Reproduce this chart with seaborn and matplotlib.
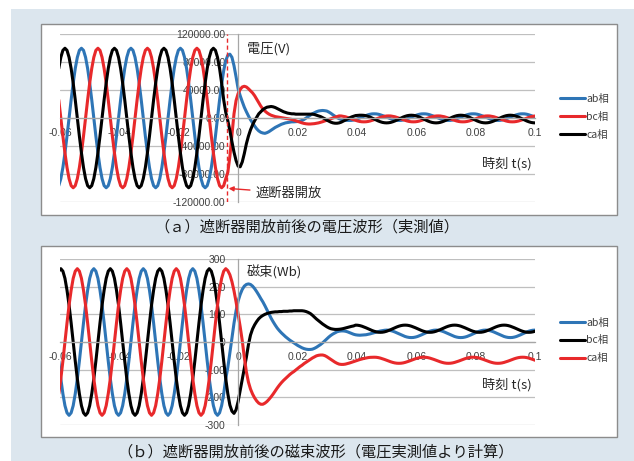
import numpy as np
import pandas as pd
import matplotlib
matplotlib.use("Agg")
import matplotlib.pyplot as plt
from matplotlib.patches import Rectangle
import seaborn as sns

# ---------------------------------------------------------------------------
# Recorded waveforms: 1440 samples per second, sample index -87 .. 144
# ---------------------------------------------------------------------------
SAMPLE_RATE = 1440
sample_index = np.arange(-87, 145)
time_s = sample_index / SAMPLE_RATE

BREAKER_OPEN_T = -0.0037  # breaker opening instant (s)

# Line voltages (kV)
ab_voltage_kv = [
    -97, -87, -71, -50, -26, 0, 26, 50, 71, 87, 97,
    100, 97, 87, 71, 50, 26, 0, -26, -50, -71, -87, -97, -100, -97, -87, -71, -50, -26, 0, 26, 50, 71, 87, 97,
    100, 97, 87, 71, 50, 26, 0, -26, -50, -71, -87, -97, -100, -97, -87, -71, -50, -26, 0, 26, 50, 71, 87, 97,
    100, 97, 87, 71, 50, 26, 0, -26, -50, -71, -87, -97, -100, -97, -87, -71, -50, -26, 0, 26,
    48, 68, 82, 90, 91.5, 87, 75, 59, 42, 32, 23.5, 15.5, 9, 3, -2.5, -7, -11.5, -15.5, -18.5, -20.5, -21.5, -22, -21,
    -19.5, -17.5, -15.5, -13.5, -12, -10.5, -9, -8, -7, -6.5, -6, -5.5, -5.5, -5.3, -5, -4.5, -3.5, -2, 0, 2,
    4, 6, 7.5, 9, 10, 10.5, 10.8, 10.5, 10, 8.5, 6.7, 4.5, 2.5, 0.5, -1, -2.2, -3, -3.4, -3.5, -3.5,
    -3.4, -2.9, -2.1, -1.1, 0, 1.3, 2.5, 3.6, 4.6, 5.4, 5.9,
    6, 5.9, 5.4, 4.6, 3.6, 2.5, 1.3, 0, -1.1, -2.1, -2.9, -3.4, -3.5, -3.4, -2.9, -2.1, -1.1, 0, 1.3, 2.5, 3.6, 4.6, 5.4, 5.9,
    6, 5.9, 5.4, 4.6, 3.6, 2.5, 1.3, 0, -1.1, -2.1, -2.9, -3.4, -3.5, -3.4, -2.9, -2.1, -1.1, 0, 1.3, 2.5, 3.6, 4.6, 5.4, 5.9,
    6, 5.9, 5.4, 4.6, 3.6, 2.5, 1.3, 0, -1.1, -2.1, -2.9, -3.4, -3.5, -3.4, -2.9, -2.1, -1.1, 0, 1.3, 2.5, 3.6, 4.6, 5.4, 5.9,
    6, 5.9, 5.4, 4.6, 3.6, 2.5, 1.3,
]
bc_voltage_kv = [
    26, 0, -26, -50, -71, -87, -97, -100, -97, -87, -71, -50, -26, 0, 26, 50, 71, 87, 97,
    100, 97, 87, 71, 50, 26, 0, -26, -50, -71, -87, -97, -100, -97, -87, -71, -50, -26, 0, 26, 50, 71, 87, 97,
    100, 97, 87, 71, 50, 26, 0, -26, -50, -71, -87, -97, -100, -97, -87, -71, -50, -26, 0, 26, 50, 71, 87, 97,
    100, 97, 87, 71, 50, 26, 0, -26, -50, -71, -87, -97, -100, -97, -87,
    -78, -55, -25, 6, 25, 35, 41, 44.5, 45.5, 44.5, 42, 39, 36, 32, 27, 22, 17, 13, 10, 7.5,
    5.5, 4, 3, 2, 1.5, 1, 0.5, 0, -0.5, -1, -1.5, -2, -3, -4, -5, -6, -7, -7.8, -8.3, -8.6,
    -8.6, -8.4, -8.1, -7.6, -7, -6.2, -5.3, -4.3, -3.2, -2.1, -1, 0.1, 1.1, 2.1, 3,
    2.9, 2.4, 1.8, 0.9, -0.1, -1.3, -2.4, -3.4, -4.3, -5, -5.4, -5.5, -5.4, -5, -4.3, -3.4, -2.4, -1.3, -0.1, 0.9, 1.8, 2.4, 2.9,
    3, 2.9, 2.4, 1.8, 0.9, -0.1, -1.3, -2.4, -3.4, -4.3, -5, -5.4, -5.5, -5.4, -5, -4.3, -3.4, -2.4, -1.3, -0.1, 0.9, 1.8, 2.4, 2.9,
    3, 2.9, 2.4, 1.8, 0.9, -0.1, -1.3, -2.4, -3.4, -4.3, -5, -5.4, -5.5, -5.4, -5, -4.3, -3.4, -2.4, -1.3, -0.1, 0.9, 1.8, 2.4, 2.9,
    3, 2.9, 2.4, 1.8, 0.9, -0.1, -1.3, -2.4, -3.4, -4.3, -5, -5.4, -5.5, -5.4, -5, -4.3, -3.4, -2.4, -1.3, -0.1, 0.9, 1.8, 2.4, 2.9,
]
ca_voltage_kv = [
    71, 87, 97,
    100, 97, 87, 71, 50, 26, 0, -26, -50, -71, -87, -97, -100, -97, -87, -71, -50, -26, 0, 26, 50, 71, 87, 97,
    100, 97, 87, 71, 50, 26, 0, -26, -50, -71, -87, -97, -100, -97, -87, -71, -50, -26, 0, 26, 50, 71, 87, 97,
    100, 97, 87, 71, 50, 26, 0, -26, -50, -71, -87, -97, -100, -97, -87, -71, -50, -26, 0, 26, 50, 71, 87, 97,
    100, 97, 87, 71, 50, 26,
    8, -4, -18, -34, -49, -61, -69, -70, -63, -51, -37, -26, -17, -10, -4, 1, 6, 9, 12, 14,
    15.5, 16, 16.5, 16, 15, 13.5, 12, 10.5, 9, 8, 7, 6.5, 6, 6, 5.5, 5.5, 5.5, 5.5, 5.5, 5.5, 5.5, 5.5, 5.5,
    5, 4, 3, 2, 0.5, -1, -3, -4.5, -6, -7, -7.5, -7.5, -7, -6, -4.5, -3, -1.5, 0, 1.5, 2.5, 3.5, 3.8, 4, 4,
    3.8, 3.3, 2.4, 1.3, -0.1, -1.5, -2.9, -4.3, -5.4, -6.3, -6.8, -7, -6.8, -6.3, -5.4, -4.3, -2.9, -1.5, -0.1, 1.3, 2.4, 3.3, 3.8,
    4, 3.8, 3.3, 2.4, 1.3, -0.1, -1.5, -2.9, -4.3, -5.4, -6.3, -6.8, -7, -6.8, -6.3, -5.4, -4.3, -2.9, -1.5, -0.1, 1.3, 2.4, 3.3, 3.8,
    4, 3.8, 3.3, 2.4, 1.3, -0.1, -1.5, -2.9, -4.3, -5.4, -6.3, -6.8, -7, -6.8, -6.3, -5.4, -4.3, -2.9, -1.5, -0.1, 1.3, 2.4, 3.3, 3.8,
    4, 3.8, 3.3, 2.4, 1.3, -0.1, -1.5, -2.9, -4.3, -5.4, -6.3, -6.8, -7,
]

# Flux linkage computed from the measured voltages (Wb)
ab_flux_wb = [
    -69, -133, -187, -230, -256, -265, -256, -230, -187, -133, -69, 0, 69, 133, 187, 230, 256,
    265, 256, 230, 187, 133, 69, 0, -69, -133, -187, -230, -256, -265, -256, -230, -187, -133, -69, 0, 69, 133, 187, 230, 256,
    265, 256, 230, 187, 133, 69, 0, -69, -133, -187, -230, -256, -265, -256, -230, -187, -133, -69, 0, 69, 133, 187, 230, 256,
    265, 256, 230, 187, 133, 69, 0, -69, -133, -187, -230, -256, -265, -256, -230, -187, -133,
    -92, -40, 14, 68, 113, 148, 172, 190, 202, 208, 210, 208, 202, 193, 182, 170, 157, 145, 131, 116,
    101, 86, 73, 61, 50, 41, 33, 26, 19, 13, 7, 2, -3, -8, -13, -17, -21, -24, -26, -27,
    -27, -26, -23, -19, -14, -9, -3, 4, 11, 18, 24, 29, 33, 37, 39, 40, 40, 39, 37, 34, 31, 28, 26, 25, 24.5, 25,
    25.3, 26.2, 27.6, 29.4, 31.5, 33.7, 35.9, 38, 39.8, 41.3, 42.4,
    43, 42.6, 41.2, 39.1, 36.3, 33, 29.5, 26, 22.8, 19.9, 17.8, 16.4, 16, 16.4, 17.8, 19.9, 22.8, 26, 29.5, 33, 36.3, 39.1, 41.2, 42.6,
    43, 42.6, 41.2, 39.1, 36.3, 33, 29.5, 26, 22.8, 19.9, 17.8, 16.4, 16, 16.4, 17.8, 19.9, 22.8, 26, 29.5, 33, 36.3, 39.1, 41.2, 42.6,
    43, 42.6, 41.2, 39.1, 36.3, 33, 29.5, 26, 22.8, 19.9, 17.8, 16.4, 16, 16.4, 17.8, 19.9, 22.8, 26, 29.5, 33, 36.3, 39.1, 41.2, 42.6,
    43,
]
bc_flux_wb = [
    256,
    265, 256, 230, 187, 133, 69, 0, -69, -133, -187, -230, -256, -265, -256, -230, -187, -133, -69, 0, 69, 133, 187, 230, 256,
    265, 256, 230, 187, 133, 69, 0, -69, -133, -187, -230, -256, -265, -256, -230, -187, -133, -69, 0, 69, 133, 187, 230, 256,
    265, 256, 230, 187, 133, 69, 0, -69, -133, -187, -230, -256, -265, -256, -230, -187, -133, -69, 0, 69, 133, 187, 230, 256,
    265, 256, 230, 187, 133, 69, 0, -69, -133, -187,
    -228, -250, -258, -245, -215, -175, -135, -97, -55, -10, 25, 47, 62, 74, 84, 91, 96, 100, 103, 105,
    107, 108, 109, 109, 110, 110, 111, 111, 111, 112, 112, 113, 113, 113, 113, 113, 112, 110, 107, 103,
    97, 90, 83, 77, 71, 65, 60, 55, 51, 48, 46.5, 45.5, 45.5, 46, 47, 48.5, 50.5, 52.5, 54.5, 56.5, 58,
    61, 60.6, 59.3, 57.2, 54.5, 51.4, 48, 44.6, 41.5, 38.8, 36.7, 35.4, 35, 35.4, 36.7, 38.8, 41.5, 44.6, 48, 51.4, 54.5, 57.2, 59.3, 60.6,
    61, 60.6, 59.3, 57.2, 54.5, 51.4, 48, 44.6, 41.5, 38.8, 36.7, 35.4, 35, 35.4, 36.7, 38.8, 41.5, 44.6, 48, 51.4, 54.5, 57.2, 59.3, 60.6,
    61, 60.6, 59.3, 57.2, 54.5, 51.4, 48, 44.6, 41.5, 38.8, 36.7, 35.4, 35, 35.4, 36.7, 38.8, 41.5, 44.6, 48, 51.4, 54.5, 57.2, 59.3, 60.6,
    61, 60.6, 59.3, 57.2, 54.5, 51.4, 48, 44.6, 41.5, 38.8, 36.7, 35.4, 35, 35.4, 36.7, 38.8,
]
ca_flux_wb = [
    -187, -133, -69, 0, 69, 133, 187, 230, 256,
    265, 256, 230, 187, 133, 69, 0, -69, -133, -187, -230, -256, -265, -256, -230, -187, -133, -69, 0, 69, 133, 187, 230, 256,
    265, 256, 230, 187, 133, 69, 0, -69, -133, -187, -230, -256, -265, -256, -230, -187, -133, -69, 0, 69, 133, 187, 230, 256,
    265, 256, 230, 187, 133, 69, 0, -69, -133, -187, -230, -256, -265, -256, -230, -187, -133, -69, 0, 69, 133, 187, 230, 256,
    265,
    258, 243, 218, 185, 145, 100, 55, 5, -55, -108, -145, -170, -188, -202, -213, -221, -225, -225, -221, -215,
    -207, -198, -188, -177, -166, -156, -147, -139, -132, -125, -118, -112, -107, -101, -95, -89, -84, -78, -73, -68,
    -63, -58, -54, -50, -48, -47, -47, -49, -53, -58, -63, -68, -73, -77, -80, -81,
    -81, -80, -78, -76, -73.5, -71, -68.5, -66, -63.5, -61.5, -59.5, -58, -56.5, -55.5, -55.2,
    -55, -55.3, -56.4, -58.2, -60.5, -63.1, -66, -68.9, -71.5, -73.8, -75.6, -76.7, -77, -76.7, -75.6, -73.8, -71.5, -68.9, -66, -63.1, -60.5, -58.2, -56.4, -55.3,
    -55, -55.3, -56.4, -58.2, -60.5, -63.1, -66, -68.9, -71.5, -73.8, -75.6, -76.7, -77, -76.7, -75.6, -73.8, -71.5, -68.9, -66, -63.1, -60.5, -58.2, -56.4, -55.3,
    -55, -55.3, -56.4, -58.2, -60.5, -63.1, -66, -68.9, -71.5, -73.8, -75.6, -76.7, -77, -76.7, -75.6, -73.8, -71.5, -68.9, -66, -63.1, -60.5, -58.2, -56.4, -55.3,
    -55, -55.3, -56.4, -58.2, -60.5, -63.1, -66,
]

phase_labels = ["ab相", "bc相", "ca相"]
voltage_colors = ["#2E75B6", "#E8292B", "#000000"]
flux_colors = ["#2E75B6", "#000000", "#E8292B"]

x_ticks = [-0.06, -0.04, -0.02, 0, 0.02, 0.04, 0.06, 0.08, 0.1]
x_tick_labels = ["-0.06", "-0.04", "-0.02", "0", "0.02", "0.04", "0.06", "0.08", "0.1"]
voltage_ticks = [-120000, -80000, -40000, 0, 40000, 80000, 120000]
voltage_tick_labels = ["-120000.00", "-80000.00", "-40000.00", "0.00",
                       "40000.00", "80000.00", "120000.00"]
flux_ticks = [-300, -200, -100, 0, 100, 200, 300]
flux_tick_labels = ["-300", "-200", "-100", "0", "100", "200", "300"]

# ---------------------------------------------------------------------------
sns.set_theme(style="white")
plt.rcParams["font.family"] = ["Noto Sans CJK JP", "DejaVu Sans"]

W, H = 634, 461
fig = plt.figure(figsize=(W / 100, H / 100), dpi=100)


def px_rect(x0, y0, x1, y1):
    """Figure-fraction rectangle from pixel corners (origin top-left)."""
    return (x0 / W, 1 - y1 / H, (x1 - x0) / W, (y1 - y0) / H)


def fig_xy(x, y):
    return (x / W, 1 - y / H)


fig.patches.append(Rectangle((11 / W, 0), 1 - 11 / W, 1 - 9 / H, transform=fig.transFigure,
                             facecolor="#DCE6EE", edgecolor="none", zorder=-3))
for corners in [(40.7, 24.3, 616.7, 215.0), (40.7, 246.0, 616.7, 437.3)]:
    x, y, w, h = px_rect(*corners)
    fig.patches.append(Rectangle((x, y), w, h, transform=fig.transFigure,
                                 facecolor="white", edgecolor="#8C8C8C", lw=1.0, zorder=-2))


def long_frame(series, scale=1.0):
    parts = []
    for values, label in zip(series, phase_labels):
        parts.append(pd.DataFrame({"time": time_s,
                                   "value": np.asarray(values, dtype=float) * scale,
                                   "phase": label}))
    return pd.concat(parts, ignore_index=True)


def style_axes(ax, yticks, ylabels, ylim):
    ax.patch.set_visible(False)
    ax.set_xlim(-0.06, 0.1)
    ax.set_ylim(*ylim)
    for side in ("top", "right"):
        ax.spines[side].set_visible(False)
    ax.spines["left"].set_position(("data", 0))
    ax.spines["bottom"].set_position(("data", 0))
    for side in ("left", "bottom"):
        ax.spines[side].set_color("#A6A6A6")
        ax.spines[side].set_linewidth(0.9)
    ax.set_axisbelow(True)
    ax.yaxis.grid(True, color="#BFBFBF", lw=0.9)
    ax.xaxis.grid(False)
    ax.set_xticks(x_ticks, x_tick_labels)
    ax.set_yticks(yticks, ylabels)
    ax.tick_params(axis="x", direction="out", length=3, width=0.8, color="#A6A6A6",
                   pad=4, labelsize=7.5, labelcolor="#404040")
    ax.tick_params(axis="y", length=0, pad=9, labelsize=7.5, labelcolor="#404040")
    for lab in ax.get_xticklabels() + ax.get_yticklabels():
        lab.set_fontfamily("Liberation Sans")
    ax.set_xlabel("")
    ax.set_ylabel("")


def draw_panel(ax, frame, colors, legend_center_y):
    sns.lineplot(data=frame, x="time", y="value", hue="phase", hue_order=phase_labels,
                 palette=dict(zip(phase_labels, colors)), estimator=None, errorbar=None,
                 lw=2.2, ax=ax, legend=True)
    for line in ax.get_lines():
        line.set_solid_joinstyle("round")
        line.set_solid_capstyle("round")
    sns.move_legend(ax, loc="center left", bbox_to_anchor=fig_xy(560, legend_center_y),
                    bbox_transform=fig.transFigure, frameon=False, title=None,
                    fontsize=7.5, handlelength=2.4, handletextpad=0.1, labelspacing=0.75,
                    borderpad=0, borderaxespad=0)
    for txt in ax.get_legend().get_texts():
        txt.set_color("#404040")


# (a) voltage
ax_v = fig.add_axes(px_rect(60, 34.3, 535, 201.7))
draw_panel(ax_v, long_frame([ab_voltage_kv, bc_voltage_kv, ca_voltage_kv], scale=1000.0),
           voltage_colors, 116.7)
style_axes(ax_v, voltage_ticks, voltage_tick_labels, (-120000, 120000))
ax_v.axvline(BREAKER_OPEN_T, color="#E8292B", lw=1.0, ls=(0, (3, 2)), zorder=3)
ax_v.annotate("遮断器開放", xy=(BREAKER_OPEN_T + 0.0005, -101000), xycoords="data",
              xytext=fig_xy(256, 193), textcoords="figure fraction",
              ha="left", va="center", fontsize=9.5, color="#262626",
              arrowprops=dict(arrowstyle="-|>", color="#E8292B", lw=1.0,
                              mutation_scale=7, shrinkA=2, shrinkB=0))
fig.text(*fig_xy(247, 49), "電圧(V)", ha="left", va="center", fontsize=9.5, color="#262626")
fig.text(*fig_xy(532, 164), "時刻 t(s)", ha="right", va="center", fontsize=9.5, color="#262626")

# (b) flux
ax_f = fig.add_axes(px_rect(60, 259, 535, 425))
draw_panel(ax_f, long_frame([ab_flux_wb, bc_flux_wb, ca_flux_wb]), flux_colors, 340.3)
style_axes(ax_f, flux_ticks, flux_tick_labels, (-300, 300))
fig.text(*fig_xy(246.5, 272.5), "磁束(Wb)", ha="left", va="center", fontsize=9.5, color="#262626")
fig.text(*fig_xy(532, 385), "時刻 t(s)", ha="right", va="center", fontsize=9.5, color="#262626")

# captions
fig.text(*fig_xy(306.5, 227), "（ａ）遮断器開放前後の電圧波形（実測値）",
         ha="center", va="center", fontsize=11, color="#1A1A1A")
fig.text(*fig_xy(316, 452), "（ｂ）遮断器開放前後の磁束波形（電圧実測値より計算）",
         ha="center", va="center", fontsize=11, color="#1A1A1A")

fig.savefig("out.png", dpi=100)
